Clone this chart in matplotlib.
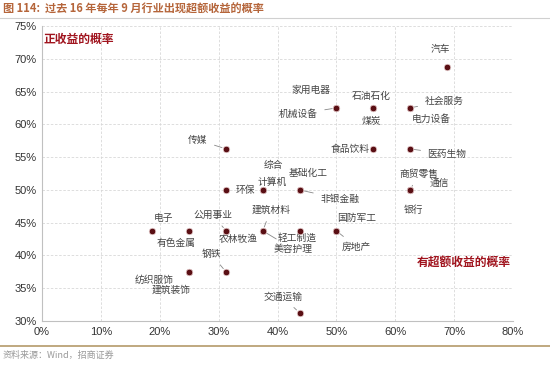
import matplotlib
matplotlib.use("Agg")
import matplotlib.pyplot as plt
from matplotlib.ticker import PercentFormatter
from matplotlib.lines import Line2D

plt.rcParams['font.family'] = ['Noto Sans CJK SC', 'DejaVu Sans']

# Data: probability of positive return (x) vs. probability of excess return (y), %
industries = ['汽车', '家用电器', '石油石化', '机械设备', '煤炭', '社会服务', '电力设备',
              '食品饮料', '医药生物', '传媒', '环保', '计算机', '综合', '基础化工', '非银金融',
              '商贸零售', '通信', '银行', '电子', '公用事业', '有色金属', '农林牧渔', '建筑材料',
              '轻工制造', '美容护理', '国防军工', '房地产', '钢铁', '纺织服饰', '建筑装饰', '交通运输']
pos_prob = [68.75, 50.0, 56.25, 50.0, 56.25, 62.5, 62.5,
            56.25, 62.5, 31.25, 31.25, 37.5, 37.5, 43.75, 43.75,
            62.5, 62.5, 62.5, 18.75, 31.25, 25.0, 31.25, 37.5,
            43.75, 37.5, 50.0, 50.0, 31.25, 25.0, 25.0, 43.75]
excess_prob = [68.75, 62.5, 62.5, 62.5, 62.5, 62.5, 62.5,
               56.25, 56.25, 56.25, 50.0, 50.0, 50.0, 50.0, 50.0,
               50.0, 50.0, 50.0, 43.75, 43.75, 43.75, 43.75, 43.75,
               43.75, 43.75, 43.75, 43.75, 37.5, 37.5, 37.5, 31.25]
x_ticks = [0, 10, 20, 30, 40, 50, 60, 70, 80]
y_ticks = [30, 35, 40, 45, 50, 55, 60, 65, 70, 75]

# Label placement (pixel offsets from the dot) and whether a leader line is drawn
label_offsets = {
    '汽车': (-6, 18, False), '家用电器': (-25, 18, False), '石油石化': (-2, 12, False),
    '机械设备': (-38, -6, True), '煤炭': (-2, -13, False), '社会服务': (34, 7, True),
    '电力设备': (21, -11, False), '食品饮料': (-23, 0, False), '医药生物': (37, -5, True),
    '传媒': (-28, 9, True), '环保': (19, 0, False), '计算机': (9, 8, False),
    '综合': (11, 25, False), '基础化工': (9, 17, False), '非银金融': (40, -9, True),
    '商贸零售': (9, 16, True), '通信': (29, 7, False), '银行': (3, -20, False),
    '电子': (11, 13, False), '公用事业': (-13, 16, True), '有色金属': (-13, -12, False),
    '农林牧渔': (12, -8, False), '建筑材料': (8, 21, True), '轻工制造': (-2, -7, False),
    '美容护理': (30, -18, True), '国防军工': (20, 13, False), '房地产': (20, -16, True),
    '钢铁': (-15, 18, True), '纺织服饰': (-35, -8, False), '建筑装饰': (-18, -18, False),
    '交通运输': (-17, 16, True),
}

fig = plt.figure(figsize=(5.5, 3.65), dpi=100)
ax = fig.add_axes([0.0764, 0.1205, 0.8563, 0.8083])

ax.set_xlim(0, 80)
ax.set_ylim(30, 75)
ax.set_xticks(x_ticks)
ax.set_yticks(y_ticks)
ax.xaxis.set_major_formatter(PercentFormatter(decimals=0))
ax.yaxis.set_major_formatter(PercentFormatter(decimals=0))
for lab in ax.get_xticklabels() + ax.get_yticklabels():
    lab.set_fontfamily(['Liberation Sans', 'DejaVu Sans'])
ax.tick_params(axis='both', length=0, labelsize=8, colors='#333333', pad=4)
ax.grid(True, color='#d8d8d8', linestyle=(0, (3, 2)), linewidth=0.6)
ax.set_axisbelow(True)
for s in ['top', 'right']:
    ax.spines[s].set_visible(False)
for s in ['left', 'bottom']:
    ax.spines[s].set_color('#c0c0c0')
    ax.spines[s].set_linewidth(0.8)

ax.scatter(pos_prob, excess_prob, s=22, color='#5a0f14', edgecolor='#e8d0d0',
           linewidth=0.5, zorder=3)

for name, xv, yv in zip(industries, pos_prob, excess_prob):
    dx, dy, leader = label_offsets[name]
    kw = {}
    if leader:
        kw['arrowprops'] = dict(arrowstyle='-', color='#888888', lw=0.6,
                                shrinkA=3, shrinkB=3)
    ax.annotate(name, (xv, yv), xytext=(dx, dy), textcoords='offset pixels',
                ha='center', va='center', fontsize=7, color='#444444', zorder=2, **kw)

ax.text(0.004, 0.955, '正收益的概率', transform=ax.transAxes, fontsize=8.5,
        color='#a0141e', fontweight='bold', ha='left', va='center')
ax.text(0.995, 0.2, '有超额收益的概率', transform=ax.transAxes, fontsize=8.5,
        color='#a0141e', fontweight='bold', ha='right', va='center')

# Title and source
fig.text(0.005, 0.975, '图 114:  过去 16 年每年 9 月行业出现超额收益的概率', fontsize=8,
         color='#b5653a', fontweight='bold', ha='left', va='center')
fig.add_artist(Line2D([0, 1], [0.952, 0.952], transform=fig.transFigure,
                      color='#d0d0d0', lw=0.8))
fig.add_artist(Line2D([0, 1], [0.052, 0.052], transform=fig.transFigure,
                      color='#b49a6a', lw=1.2))
fig.text(0.005, 0.027, '资料来源：Wind，招商证券', fontsize=6.5, color='#999999',
         ha='left', va='center')

fig.savefig('out.png', dpi=100, facecolor='white')
